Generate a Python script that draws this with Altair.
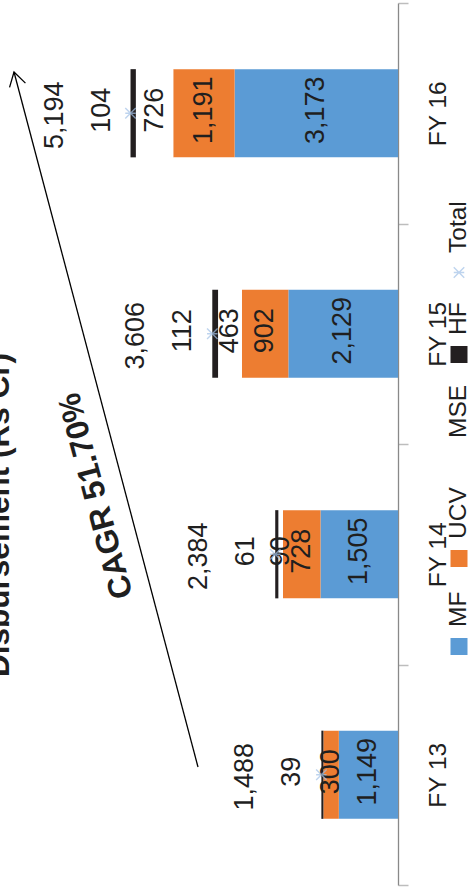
import altair as alt
import pandas as pd

# Disbursement by segment, Rs Cr
years = ["FY 13", "FY 14", "FY 15", "FY 16"]
mf = [1149, 1505, 2129, 3173]
ucv = [300, 728, 902, 1191]
mse = [0, 90, 463, 726]
hf = [39, 61, 112, 104]
total = [1488, 2384, 3606, 5194]

series = ["MF", "UCV", "MSE", "HF"]
series_colors = ["#5B9BD5", "#ED7D31", "#FFFFFF", "#231F20"]
total_color = "#A3C2E8"

title_text = "Disbursement (Rs Cr)"
cagr_text = "CAGR 51.70%"

# ---- layout (pixels) ----
PAD_L, PAD_T, PAD_R, PAD_B = 89, 3, 77, 8
PLOT_W, PLOT_H = 309, 882
X_MAX = 6000
FONT = "Liberation Sans, Arial, sans-serif"
TXT = "#1F1F1F"
VAL_SIZE = 27

# long table for the stacked segments
rows = []
for i, yr in enumerate(years):
    for j, (s, vals) in enumerate(zip(series, [mf, ucv, mse, hf])):
        rows.append({"year": yr, "series": s, "idx": j, "value": vals[i]})
seg_df = pd.DataFrame(rows)
sum_df = pd.DataFrame({"year": years, "hf": hf, "total": total})

xscale = alt.Scale(domain=[0, X_MAX], reverse=True, nice=False, zero=True)
yscale = alt.Scale(domain=years[::-1], paddingInner=0, paddingOuter=0)
yaxis = alt.Axis(
    orient="right", title=None, grid=False,
    domainColor="#898989", domainWidth=1.3,
    tickColor="#BDBDBD", tickWidth=1.5, tickSize=10, tickBand="extent",
    labelAngle=270, labelAlign="center", labelBaseline="top", labelPadding=18,
    labelFont=FONT, labelFontSize=24.5, labelColor=TXT,
)
Y = alt.Y("year:N", scale=yscale, axis=yaxis)
color = alt.Color("series:N", scale=alt.Scale(domain=series, range=series_colors), legend=None)

bars = alt.Chart(seg_df).mark_bar(height=alt.RelativeBandSize(0.4)).encode(
    x=alt.X("value:Q", stack="zero", scale=xscale, axis=None),
    y=Y,
    color=color,
    order=alt.Order("idx:Q"),
)

# value labels centred in MF / UCV / MSE segments
seg_labels = (
    alt.Chart(seg_df)
    .transform_stack(stack="value", as_=["v0", "v1"], groupby=["year"],
                     sort=[alt.SortField("idx", order="ascending")])
    .transform_filter("datum.series != 'HF' && datum.value > 0")
    .transform_calculate(mid="(datum.v0 + datum.v1) / 2")
    .mark_text(angle=270, align="center", baseline="middle", dx=3,
               font=FONT, fontSize=VAL_SIZE, color=TXT)
    .encode(x=alt.X("mid:Q", scale=xscale, axis=None), y=Y,
            text=alt.Text("value:Q", format=","))
)

hf_labels = alt.Chart(sum_df).mark_text(
    angle=270, align="center", baseline="middle", dx=3, dy=-29,
    font=FONT, fontSize=VAL_SIZE, color=TXT,
).encode(x=alt.X("total:Q", scale=xscale, axis=None), y=Y,
         text=alt.Text("hf:Q", format=","))

total_labels = alt.Chart(sum_df).mark_text(
    angle=270, align="center", baseline="middle", dx=-2, dy=-76,
    font=FONT, fontSize=VAL_SIZE, color=TXT,
).encode(x=alt.X("total:Q", scale=xscale, axis=None), y=Y,
         text=alt.Text("total:Q", format=","))

ASTERISK = "M-1,-1L1,1M-1,1L1,-1M-1,0L1,0"
total_marks = alt.Chart(sum_df).mark_point(
    shape=ASTERISK, size=110, filled=False, stroke=total_color, strokeWidth=1.4,
).encode(x=alt.X("total:Q", scale=xscale, axis=None), y=Y)

# chart title, growth arrow and its label
note_df = pd.DataFrame({"k": [0]})
title = alt.Chart(note_df).mark_text(
    text=title_text, angle=270, align="center", baseline="alphabetic",
    font=FONT, fontWeight="bold", fontSize=31.5, color=TXT,
).encode(x=alt.value(9 - PAD_L), y=alt.value(515 - PAD_T))

arrow = alt.Chart(note_df).mark_rule(color="#000000", strokeWidth=1.3).encode(
    x=alt.value(198 - PAD_L), y=alt.value(767 - PAD_T),
    x2=alt.value(14 - PAD_L), y2=alt.value(72 - PAD_T),
)
arrow_head = alt.Chart(note_df).mark_point(
    shape="M-0.6,1L0,0L0.6,1", size=750, angle=345.2, filled=False,
    stroke="#000000", strokeWidth=1.3, opacity=1,
).encode(x=alt.value(14 - PAD_L), y=alt.value(72 - PAD_T))

cagr = alt.Chart(note_df).mark_text(
    text=cagr_text, angle=255, align="center", baseline="middle",
    font=FONT, fontWeight="bold", fontSize=32, color=TXT,
).encode(x=alt.value(96 - PAD_L), y=alt.value(496 - PAD_T))

# legend, drawn along the right edge
legend_names = series + ["Total"]
legend_pos = [643.5, 555.5, 454.5, 351.5, 269.5]
leg_df = pd.DataFrame({"series": legend_names, "ly": legend_pos})
LEG_X = 459 - PAD_L

leg_swatch = alt.Chart(leg_df).transform_filter("datum.series != 'Total'").mark_point(
    shape="square", size=289, filled=True, opacity=1,
).encode(x=alt.value(LEG_X), y=alt.Y("ly:Q", scale=None), color=color)

leg_star = alt.Chart(leg_df).transform_filter("datum.series == 'Total'").mark_point(
    shape=ASTERISK, size=110, filled=False, stroke=total_color, strokeWidth=1.4,
).encode(x=alt.value(LEG_X), y=alt.Y("ly:Q", scale=None))

leg_text = alt.Chart(leg_df).mark_text(
    angle=270, align="left", baseline="middle", dx=19.5,
    font=FONT, fontSize=24.5, color=TXT,
).encode(x=alt.value(LEG_X), y=alt.Y("ly:Q", scale=None), text="series:N")

chart = alt.layer(
    bars, seg_labels, hf_labels, total_labels, total_marks,
    title, arrow, arrow_head, cagr, leg_swatch, leg_star, leg_text,
).properties(
    width=PLOT_W, height=PLOT_H,
    padding={"left": PAD_L, "top": PAD_T, "right": PAD_R, "bottom": PAD_B},
    autosize=alt.AutoSizeParams(type="none"),
    background="#FFFFFF",
).configure_view(stroke=None)

chart.save("out.html", embed_options={"renderer": "svg", "actions": False})
